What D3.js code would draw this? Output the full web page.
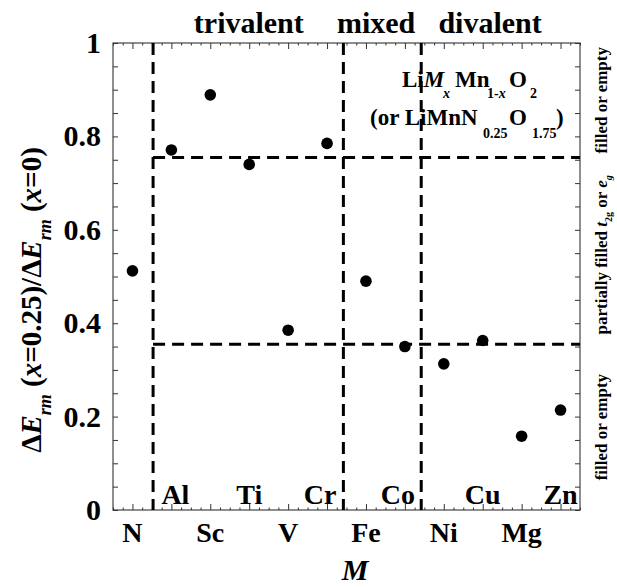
<!DOCTYPE html>
<html><head><meta charset="utf-8">
<script src="https://cdn.jsdelivr.net/npm/d3@7"></script>
<style>body{margin:0;background:#fff}svg{display:block}</style>
</head><body>
<script>
const categories = ["N","Al","Sc","Ti","V","Cr","Fe","Co","Ni","Cu","Mg","Zn"];
const values = [0.512,0.771,0.889,0.740,0.385,0.785,0.490,0.350,0.313,0.363,0.158,0.214];
const yTicks = [0,0.2,0.4,0.6,0.8,1];
const vLines = [0.53,5.42,7.42];
const hLines = [0.755,0.355];
const groupLabels = [{t:"trivalent",x:2.99},{t:"mixed",x:6.26},{t:"divalent",x:9.19}];

const FONT = "'Liberation Serif', 'Times New Roman', Times, 'DejaVu Serif', serif";
const W=617,H=587, L=113,R=580,T=43,B=510;
const svg=d3.select("body").append("svg").attr("width",W).attr("height",H)
  .attr("font-family",FONT).attr("font-weight","bold");
const x=d3.scaleLinear().domain([-0.5,11.5]).range([L,R]);
const y=d3.scaleLinear().domain([0,1]).range([B,T]);

// frame
svg.append("rect").attr("x",L).attr("y",T).attr("width",R-L).attr("height",B-T)
  .attr("fill","none").attr("stroke","#444").attr("stroke-width",1.2);

const idx=d3.range(categories.length);
svg.append("g").attr("transform",`translate(0,${B})`)
  .call(d3.axisBottom(x).tickValues(idx).tickSize(-6).tickFormat(""));
svg.append("g").attr("transform",`translate(0,${T})`)
  .call(d3.axisTop(x).tickValues(idx).tickSize(-6).tickFormat(""));
const minorX=d3.range(-0.5,11.51,0.25).filter(v=>Math.abs(v-Math.round(v))>0.01);
svg.append("g").attr("transform",`translate(0,${B})`).call(d3.axisBottom(x).tickValues(minorX).tickSize(-2.5).tickFormat(""));
svg.append("g").attr("transform",`translate(0,${T})`).call(d3.axisTop(x).tickValues(minorX).tickSize(-2.5).tickFormat(""));
const yMinor=d3.range(0,1.001,0.05);
svg.append("g").attr("transform",`translate(${L},0)`).call(d3.axisLeft(y).tickValues(yMinor).tickSize(-5).tickFormat(""));
svg.append("g").attr("transform",`translate(${R},0)`).call(d3.axisRight(y).tickValues(yMinor).tickSize(-5).tickFormat(""));
svg.selectAll(".domain").remove();
svg.selectAll(".tick line").attr("stroke","#333").attr("stroke-width",1);

function T_(sel){return sel.attr("font-family",FONT).attr("font-weight","bold").attr("fill","#000");}

// y tick labels
T_(svg.selectAll(".ylab").data(yTicks).enter().append("text"))
  .attr("x",L-12).attr("y",d=>y(d)+10).attr("text-anchor","end")
  .attr("font-size",30).text(d=>d===0?"0":d===1?"1":d3.format(".1f")(d));

// x labels
T_(svg.selectAll(".xlab").data(idx).enter().append("text"))
  .attr("x",d=>x(d)+(d===5||d===7?-7:d===1?4:0))
  .attr("y",d=>d%2===0?B+32:B-6)
  .attr("text-anchor","middle").attr("font-size",28).text(d=>categories[d]);

// dashed lines
svg.selectAll(".vl").data(vLines).enter().append("line")
  .attr("x1",d=>x(d)).attr("x2",d=>x(d)).attr("y1",T).attr("y2",B)
  .attr("stroke","#000").attr("stroke-width",3).attr("stroke-dasharray","12,7");
svg.selectAll(".hl").data(hLines).enter().append("line")
  .attr("x1",x(vLines[0])).attr("x2",R).attr("y1",d=>y(d)).attr("y2",d=>y(d))
  .attr("stroke","#000").attr("stroke-width",3).attr("stroke-dasharray","12,7");

// points
svg.selectAll(".pt").data(values).enter().append("circle")
  .attr("cx",(d,i)=>x(i)).attr("cy",d=>y(d)).attr("r",5.8).attr("fill","#000");

// group labels
T_(svg.selectAll(".grp").data(groupLabels).enter().append("text"))
  .attr("x",d=>x(d.x)).attr("y",33).attr("text-anchor","middle").attr("font-size",30).text(d=>d.t);

// x axis title
T_(svg.append("text")).attr("x",355).attr("y",580).attr("text-anchor","middle")
  .attr("font-size",30).attr("font-style","italic").text("M");

// y axis title
const yt=T_(svg.append("text")).attr("transform","translate(41,300) rotate(-90)")
  .attr("text-anchor","middle").attr("font-size",29);
yt.append("tspan").text("Δ");
yt.append("tspan").attr("font-style","italic").text("E");
yt.append("tspan").attr("font-style","italic").attr("font-size",18).attr("dy",10).text("rm");
yt.append("tspan").attr("dy",-10).text(" (");
yt.append("tspan").attr("font-style","italic").text("x");
yt.append("tspan").text("=0.25)/Δ");
yt.append("tspan").attr("font-style","italic").text("E");
yt.append("tspan").attr("font-style","italic").attr("font-size",18).attr("dy",10).text("rm");
yt.append("tspan").attr("dy",-10).text(" (");
yt.append("tspan").attr("font-style","italic").text("x");
yt.append("tspan").text("=0)");

// formula annotation
const f1=T_(svg.append("text")).attr("font-size",23);
f1.append("tspan").attr("x",402).attr("y",87).text("Li");
f1.append("tspan").attr("font-style","italic").text("M");
f1.append("tspan").attr("x",443).attr("y",98).attr("font-size",14).attr("font-style","italic").text("x");
f1.append("tspan").attr("x",455).attr("y",87).text("Mn");
f1.append("tspan").attr("x",487).attr("y",98).attr("font-size",14).text("1-");
f1.append("tspan").attr("font-size",14).attr("font-style","italic").text("x");
f1.append("tspan").attr("x",509).attr("y",87).text("O");
f1.append("tspan").attr("x",530).attr("y",98).attr("font-size",14).text("2");
const f2=T_(svg.append("text")).attr("font-size",23);
f2.append("tspan").attr("x",370).attr("y",125).text("(or LiMnN");
f2.append("tspan").attr("x",483).attr("y",138).attr("font-size",14).text("0.25");
f2.append("tspan").attr("x",509).attr("y",125).text("O");
f2.append("tspan").attr("x",532).attr("y",138).attr("font-size",14).text("1.75");
f2.append("tspan").attr("x",556).attr("y",125).text(")");

// right-side labels
function rlab(cy, build){
  const t=T_(svg.append("text")).attr("transform",`translate(607,${cy}) rotate(-90)`)
    .attr("text-anchor","middle").attr("font-size",17);
  build(t);
}
rlab(y((1+hLines[0])/2), t=>t.text("filled or empty"));
rlab(y((hLines[0]+hLines[1])/2)+4, t=>{
  t.append("tspan").text("partially filled ");
  t.append("tspan").attr("font-style","italic").text("t");
  t.append("tspan").attr("font-size",10).attr("dy",5).text("2g");
  t.append("tspan").attr("dy",-5).text(" or ");
  t.append("tspan").attr("font-style","italic").text("e");
  t.append("tspan").attr("font-size",10).attr("font-style","italic").attr("dy",5).text("g");
});
rlab(y(hLines[1]/2), t=>t.text("filled or empty"));
</script>
</body></html>
